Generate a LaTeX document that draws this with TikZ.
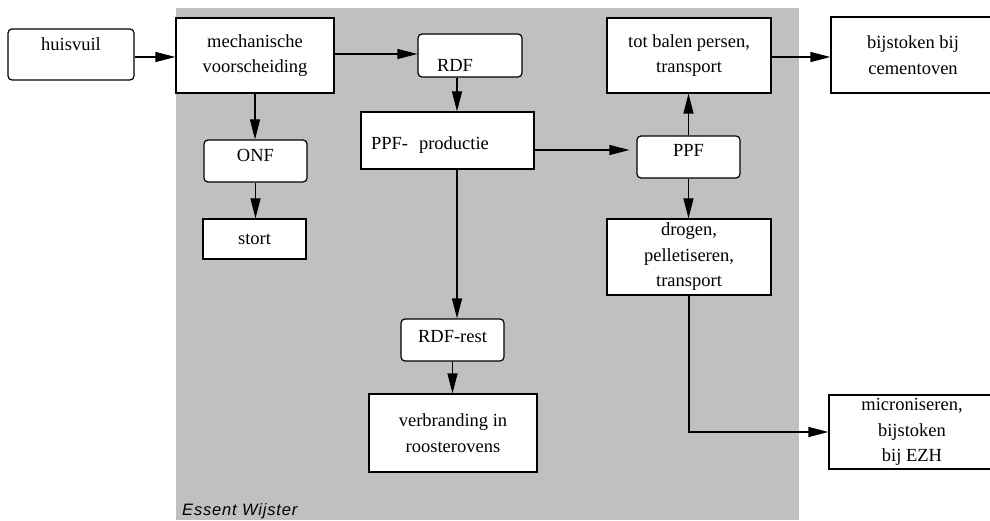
\documentclass[tikz,border=0pt]{standalone}
\usepackage{fontspec}
\setmainfont{Liberation Serif}
\setsansfont{Liberation Sans}
\usetikzlibrary{arrows.meta}
\definecolor{plantgray}{RGB}{192,192,192}
\begin{document}
\begin{tikzpicture}[x=1pt,y=-1pt,
  box/.style={draw=black, fill=white, line width=1.2pt, inner sep=0pt,
    font=\fontsize{18.5}{25.5}\selectfont},
  mbox/.style={box, align=center},
  rbox/.style={box, rounded corners=4pt},
  arr/.style={line width=1.2pt, -{Triangle[length=20pt,width=10pt]}},
]
\useasboundingbox (0,0) rectangle (990,521);
% plant area
\fill[plantgray] (176,8) rectangle (799,520);
\node[font=\sffamily\itshape\fontsize{16.5}{18}\selectfont\addfontfeatures{LetterSpace=5},
  anchor=base west, inner sep=0pt] (site) at (182,515) {Essent Wijster};

% process steps
\node[rbox, minimum width=126pt, text height=22pt, text depth=29pt] (huisvuil) at (71,54.5) {huisvuil};
\node[mbox, minimum width=158pt, minimum height=75pt] (mech) at (255,55.5) {mechanische\\voorscheiding};
\node[rbox, minimum width=103pt, text height=21.7pt, text depth=20.3pt] (onf) at (255.5,161) {ONF};
\node[box, minimum width=103pt, minimum height=40pt] (stort) at (254.5,239) {stort};
\node[rbox, minimum width=104pt, text height=37.7pt, text depth=5.3pt] (rdf) at (470,55.5)
  {\makebox[104pt][l]{\hspace{19pt}RDF}};
\node[box, minimum width=173pt, text height=37.3pt, text depth=19.7pt] (ppfprod) at (447.5,140.5)
  {\makebox[173pt][l]{\hspace{10pt}PPF-\hspace{11pt}productie}};
\node[rbox, minimum width=103pt, text height=20.7pt, text depth=21.3pt] (ppf) at (688.5,157) {PPF};
\node[mbox, minimum width=164pt, minimum height=75pt] (balen) at (689,55.5) {tot balen persen,\\transport};
\node[mbox, minimum width=164pt, minimum height=76pt] (cement) at (913,55) {bijstoken bij\\cementoven};
\node[mbox, minimum width=164pt, minimum height=76pt] (drogen) at (689,257) {drogen,\\pelletiseren,\\transport};
\node[box, minimum width=166pt, minimum height=74pt] (ezh) at (912,432)
  {\parbox{152pt}{\centering microniseren,\\bijstoken\\bij EZH}\hspace{14pt}};
\node[rbox, minimum width=103pt, text height=23pt, text depth=19pt] (rest) at (452.5,340) {RDF-rest};
\node[mbox, minimum width=168pt, minimum height=78pt] (oven) at (453,433) {verbranding in\\roosterovens};

% flows
\coordinate (col) at (457,0);
\draw[arr] ([yshift=-2.5pt]huisvuil.east) -- ([yshift=-2.5pt]huisvuil.east -| mech.west);
\draw[arr] ([yshift=1.5pt]mech.east) -- ([yshift=1.5pt]mech.east -| rdf.west);
\draw[arr] (mech.south) -- (mech.south |- onf.north);
\draw[arr] (onf.south) -- (onf.south |- stort.north);
\draw[arr] (rdf.south -| col) -- (ppfprod.north -| col);
\draw[arr] (ppfprod.south -| col) -- (rest.north -| col);
\draw[arr] (rest.south) -- (rest.south |- oven.north);
\draw[arr, shorten >=7pt] ([yshift=-9.5pt]ppfprod.east) -- ([yshift=-9.5pt]ppfprod.east -| ppf.west);
\draw[arr] (ppf.north) -- (ppf.north |- balen.south);
\draw[arr] (ppf.south) -- (ppf.south |- drogen.north);
\draw[arr] ([yshift=-1.5pt]balen.east) -- ([yshift=-1.5pt]balen.east -| cement.west);
\draw[arr] (drogen.south) |- (ezh.west);
\end{tikzpicture}
\end{document}
